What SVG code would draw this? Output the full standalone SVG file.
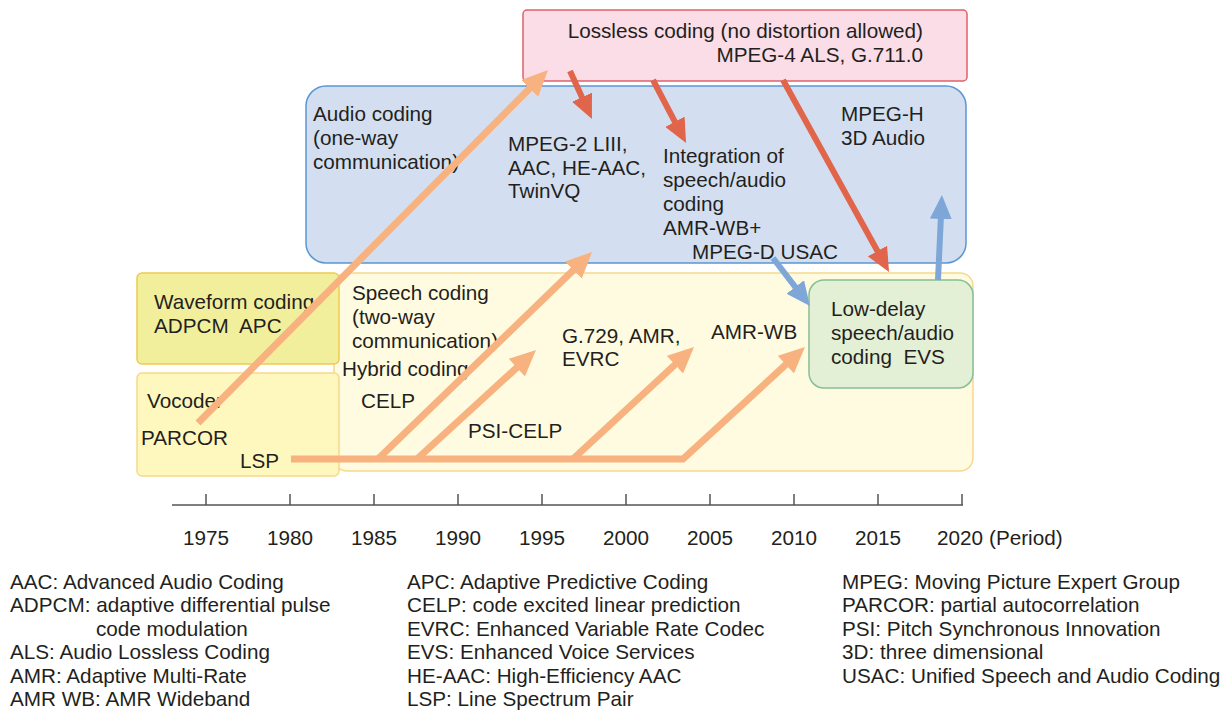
<svg xmlns="http://www.w3.org/2000/svg" width="1229" height="711" viewBox="0 0 1229 711">
  <style>
    text { font-family: "Liberation Sans", Arial, sans-serif; font-size: 20.7px; fill: #231f20; }
    .box-speech { fill: #fffbe0; stroke: #f6d98a; stroke-width: 1.5; }
    .box-audio { fill: #d3dff0; stroke: #5b97d2; stroke-width: 1.5; }
    .box-lossless { fill: #fadde6; stroke: #e0606a; stroke-width: 1.5; }
    .box-wave { fill: #f2ef9c; stroke: #efcb50; stroke-width: 1.5; }
    .box-vocoder { fill: #fff8be; stroke: #f6d98a; stroke-width: 1.5; }
    .box-lowdelay { fill: #e3f0d6; stroke: #86bf94; stroke-width: 1.5; }
    .arr-orange { fill: none; stroke: #f8b27f; stroke-width: 7; marker-end: url(#head-orange); }
    .arr-red { fill: none; stroke: #e0654a; stroke-width: 6; marker-end: url(#head-red); }
    .arr-blue { fill: none; stroke: #7ea7d8; stroke-width: 6; marker-end: url(#head-blue); }
    .axis { stroke: #555; stroke-width: 1.5; fill: none; }
    .year { text-anchor: middle; }
  </style>
  <defs>
    <marker id="head-orange" markerUnits="userSpaceOnUse" markerWidth="26" markerHeight="24" refX="8" refY="12" orient="auto">
      <path d="M0,0 L26,12 L0,24 z" fill="#f8b27f"/>
    </marker>
    <marker id="head-red" markerUnits="userSpaceOnUse" markerWidth="24" markerHeight="22" refX="8" refY="11" orient="auto">
      <path d="M0,0 L24,11 L0,22 z" fill="#e0654a"/>
    </marker>
    <marker id="head-blue" markerUnits="userSpaceOnUse" markerWidth="24" markerHeight="22" refX="8" refY="11" orient="auto">
      <path d="M0,0 L24,11 L0,22 z" fill="#7ea7d8"/>
    </marker>
  </defs>

  <!-- Speech coding (two-way) region -->
  <g id="speech-coding">
    <rect class="box-speech" x="334" y="273" width="639" height="198" rx="13"/>
    <text x="352" y="300">Speech coding</text>
    <text x="352" y="324">(two-way</text>
    <text x="352" y="348">communication)</text>
    <text x="342" y="376">Hybrid coding</text>
    <text x="361" y="408">CELP</text>
    <text x="468" y="438">PSI-CELP</text>
    <text x="562" y="343">G.729, AMR,</text>
    <text x="562" y="366">EVRC</text>
    <text x="711" y="339">AMR-WB</text>
  </g>

  <!-- Audio coding (one-way) region -->
  <g id="audio-coding">
    <rect class="box-audio" x="306" y="86" width="660" height="177" rx="20"/>
    <text x="313" y="121">Audio coding</text>
    <text x="313" y="145">(one-way</text>
    <text x="313" y="169">communication)</text>
    <text x="508" y="151">MPEG-2 LIII,</text>
    <text x="508" y="175">AAC, HE-AAC,</text>
    <text x="508" y="198">TwinVQ</text>
    <text x="663" y="163">Integration of</text>
    <text x="663" y="187">speech/audio</text>
    <text x="663" y="211">coding</text>
    <text x="663" y="235">AMR-WB+</text>
    <text x="692" y="259">MPEG-D USAC</text>
    <text x="841" y="121">MPEG-H</text>
    <text x="841" y="145">3D Audio</text>
  </g>

  <!-- Lossless coding -->
  <g id="lossless-coding">
    <rect class="box-lossless" x="523" y="10" width="444" height="71" rx="4"/>
    <text x="923" y="38" text-anchor="end">Lossless coding (no distortion allowed)</text>
    <text x="923" y="62" text-anchor="end">MPEG-4 ALS, G.711.0</text>
  </g>

  <!-- Waveform coding -->
  <g id="waveform-coding">
    <rect class="box-wave" x="137" y="273" width="202" height="91" rx="5"/>
    <text x="154" y="309">Waveform coding</text>
    <text x="154" y="333" xml:space="preserve">ADPCM  APC</text>
  </g>

  <!-- Vocoder -->
  <g id="vocoder">
    <rect class="box-vocoder" x="137" y="373" width="202" height="103" rx="5"/>
    <text x="147" y="408">Vocoder</text>
    <text x="141" y="445">PARCOR</text>
    <text x="240" y="468">LSP</text>
  </g>

  <!-- Low-delay speech/audio coding -->
  <g id="low-delay">
    <rect class="box-lowdelay" x="809" y="280" width="164" height="108" rx="15"/>
    <text x="831" y="316">Low-delay</text>
    <text x="831" y="340">speech/audio</text>
    <text x="831" y="364" xml:space="preserve">coding  EVS</text>
  </g>

  <!-- Timeline axis -->
  <g id="timeline">
    <path class="axis" d="M172,505 H963 M206,494 V505 M290,494 V505 M374,494 V505 M458,494 V505 M542,494 V505 M626,494 V505 M710,494 V505 M794,494 V505 M878,494 V505 M962,494 V505"/>
    <text class="year" x="206" y="545">1975</text>
    <text class="year" x="290" y="545">1980</text>
    <text class="year" x="374" y="545">1985</text>
    <text class="year" x="458" y="545">1990</text>
    <text class="year" x="542" y="545">1995</text>
    <text class="year" x="626" y="545">2000</text>
    <text class="year" x="710" y="545">2005</text>
    <text class="year" x="794" y="545">2010</text>
    <text class="year" x="878" y="545">2015</text>
    <text class="year" x="960" y="545">2020</text>
    <text x="989" y="545">(Period)</text>
  </g>

  <!-- Connectors -->
  <g id="connectors">
    <path class="arr-orange" d="M198,423 L535.3,82.8"/>
    <path class="arr-orange" d="M378,459 L579.1,264.5"/>
    <path class="arr-orange" d="M417,459 L522.7,362.2"/>
    <path class="arr-orange" d="M573,459 L680.8,359.2"/>
    <path class="arr-orange" d="M291,459 H683 L791.7,359.2"/>
    <path class="arr-red" d="M570,71 L585.3,104.5"/>
    <path class="arr-red" d="M653,80 L678.6,128.8"/>
    <path class="arr-red" d="M783,80 L881.3,258"/>
    <path class="arr-blue" d="M773,258 L800.2,293.3"/>
    <path class="arr-blue" d="M938,280 L941.2,211"/>
  </g>

  <!-- Abbreviations -->
  <g id="legend">
    <text x="10" y="589">AAC: Advanced Audio Coding</text>
    <text x="10" y="612">ADPCM: adaptive differential pulse</text>
    <text x="96" y="636">code modulation</text>
    <text x="10" y="659">ALS: Audio Lossless Coding</text>
    <text x="10" y="683">AMR: Adaptive Multi-Rate</text>
    <text x="10" y="706">AMR WB: AMR Wideband</text>
    <text x="407" y="589">APC: Adaptive Predictive Coding</text>
    <text x="407" y="612">CELP: code excited linear prediction</text>
    <text x="407" y="636">EVRC: Enhanced Variable Rate Codec</text>
    <text x="407" y="659">EVS: Enhanced Voice Services</text>
    <text x="407" y="683">HE-AAC: High-Efficiency AAC</text>
    <text x="407" y="706">LSP: Line Spectrum Pair</text>
    <text x="842" y="589">MPEG: Moving Picture Expert Group</text>
    <text x="842" y="612">PARCOR: partial autocorrelation</text>
    <text x="842" y="636">PSI: Pitch Synchronous Innovation</text>
    <text x="842" y="659">3D: three dimensional</text>
    <text x="842" y="683">USAC: Unified Speech and Audio Coding</text>
  </g>
</svg>
